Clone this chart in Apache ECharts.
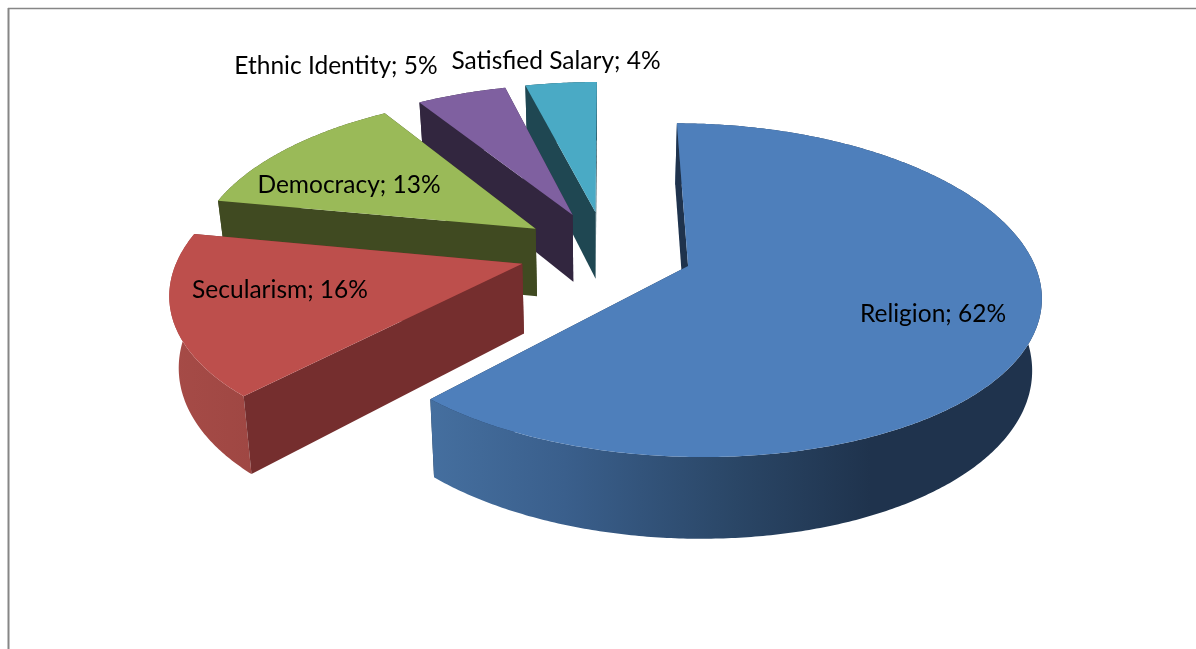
<!DOCTYPE html>
<html>
<head>
<meta charset="utf-8">
<style>html,body{margin:0;padding:0;background:#fff}#chart{width:1196px;height:649px}</style>
<script src="https://cdn.jsdelivr.net/npm/echarts@6/dist/echarts.min.js"></script>
</head>
<body>
<div id="chart"></div>
<script>
// Survey shares, clockwise from twelve o'clock
const categories = ['Religion', 'Secularism', 'Democracy', 'Ethnic Identity', 'Satisfied Salary'];
const shares = [62, 16, 13, 5, 4];

// Face colours per slice
const topColors = ['#4e7fbb', '#bd4f4c', '#9aba58', '#7f60a0', '#4aaac5'];
const cutColors = ['#1f334d', '#752e2e', '#404a21', '#32263f', '#1f4752'];
const wallStops = [
  [[0, '#456f9f'], [0.22, '#3a5f8c'], [0.5, '#2a4666'], [0.72, '#1f334d'], [1, '#1f334d']],
  [[0, '#a64b47'], [1, '#9f4743']],
  [[0, '#404a21'], [1, '#404a21']],
  [[0, '#32263f'], [1, '#32263f']],
  [[0, '#1f4752'], [1, '#1f4752']]
];

// Label centres in page pixels
const labelCentres = [[933, 314], [280, 290], [349, 185], [336, 66], [556, 61]];

// Perspective disc: radius, explosion, tilt, viewer distances, thickness
const PIE = {
  cx: 606, cy: 251, x0: 600, r: 342, explode: 87, tilt: 0.465,
  depthX: 2200, depthY: 2400, height: 69, footScale: 0.978
};

const total = shares.reduce((a, b) => a + b, 0);

// Project a point on the disc (X to the right, Z toward the viewer); lower = on the underside
function project(X, Z, lower) {
  const sx = 1 / (1 - Z / PIE.depthX);
  const sy = 1 / (1 - Z / PIE.depthY);
  let x = PIE.cx + X * sx;
  let y = PIE.cy + Z * PIE.tilt * sy;
  if (lower) {
    x = PIE.x0 + (x - PIE.x0) * PIE.footScale;
    y += PIE.height * sy;
  }
  return [x, y];
}

function sliceGeometry(index) {
  const before = shares.slice(0, index).reduce((a, b) => a + b, 0);
  const a0 = before / total * Math.PI * 2;
  const a1 = (before + shares[index]) / total * Math.PI * 2;
  const mid = (a0 + a1) / 2;
  const ox = Math.sin(mid) * PIE.explode;
  const oz = -Math.cos(mid) * PIE.explode;
  const rim = (a) => [ox + Math.sin(a) * PIE.r, oz - Math.cos(a) * PIE.r];
  const arc = [];
  const steps = Math.max(8, Math.ceil((a1 - a0) / 0.01));
  for (let i = 0; i <= steps; i++) arc.push(rim(a0 + (a1 - a0) * i / steps));
  return { apex: [ox, oz], arc };
}

function renderSlice(params, api) {
  const i = params.dataIndex;
  const { apex, arc } = sliceGeometry(i);
  const order = (categories.length - i) * 10;
  const up = (p) => project(p[0], p[1], false);
  const down = (p) => project(p[0], p[1], true);

  const face = (a, b, z2) => ({
    type: 'polygon', z2,
    shape: { points: [up(a), up(b), down(b), down(a)] },
    style: { fill: cutColors[i] }
  });

  // Stacking within a slice: trailing cut, rim wall, leading cut, top
  const children = [
    face(apex, arc[arc.length - 1], order),
    {
      type: 'polygon', z2: order + 1,
      shape: { points: arc.map(up).concat(arc.map(down).reverse()) },
      style: {
        fill: {
          type: 'linear', x: 0, y: 0, x2: 1, y2: 0,
          colorStops: wallStops[i].map(([offset, color]) => ({ offset, color }))
        }
      }
    },
    face(apex, arc[0], order + 2),
    {
      type: 'polygon', z2: order + 3,
      shape: { points: [up(apex)].concat(arc.map(up)) },
      style: { fill: topColors[i] }
    },
    {
      type: 'text', z2: 100,
      style: {
        x: labelCentres[i][0], y: labelCentres[i][1],
        text: categories[i] + '; ' + api.value(0) + '%',
        fill: '#000', font: '24.5px Lato, "Open Sans", sans-serif',
        align: 'center', verticalAlign: 'middle'
      }
    }
  ];
  return { type: 'group', children };
}

const chart = echarts.init(document.getElementById('chart'), null, { renderer: 'canvas' });
chart.setOption({
  animation: false,
  backgroundColor: '#fff',
  graphic: [
    { type: 'line', shape: { x1: 8, y1: 8.5, x2: 1196, y2: 8.5 }, style: { stroke: '#868686', lineWidth: 1.5 } },
    { type: 'line', shape: { x1: 8.5, y1: 8, x2: 8.5, y2: 649 }, style: { stroke: '#868686', lineWidth: 2 } }
  ],
  series: [{
    type: 'custom',
    coordinateSystem: 'none',
    renderItem: renderSlice,
    data: shares.map((v) => [v]),
    silent: true
  }]
});
</script>
</body>
</html>
